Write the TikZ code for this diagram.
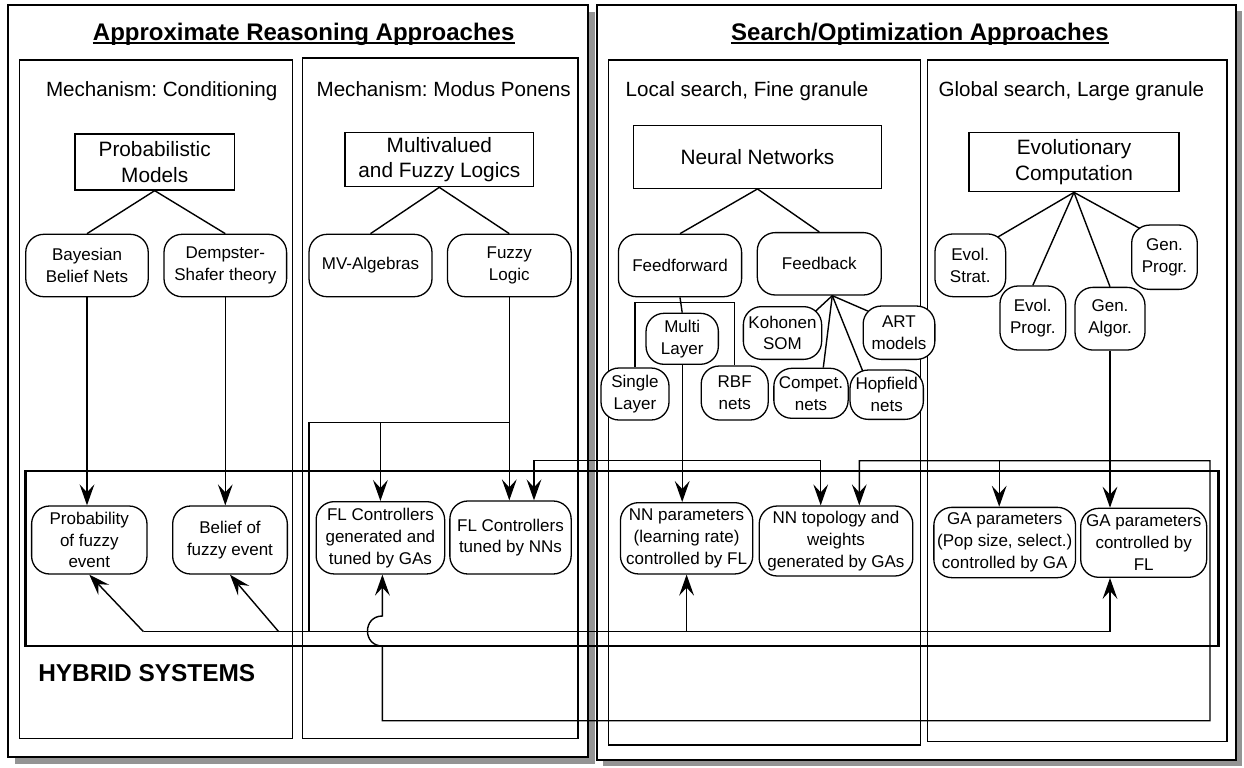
\documentclass[tikz,border=0pt]{standalone}
\usepackage{fontspec}
\setmainfont{Liberation Sans}
\usetikzlibrary{arrows.meta,calc}
\frenchspacing
\begin{document}
\frenchspacing
\begin{tikzpicture}[x=0.5pt,y=-0.5pt,
  shadow/.style={fill=black!42},
  frame/.style={draw=black,fill=white,line width=1.2pt},
  colbox/.style={draw=black,line width=0.6pt},
  hybbox/.style={draw=black,line width=1.4pt},
  boxn/.style={draw,fill=white,line width=0.65pt,align=center,inner sep=0pt,font=\fontsize{10.4}{12.8}\selectfont},
  rn/.style={draw,fill=white,rounded corners=9pt,line width=0.65pt,align=center,inner sep=0pt,font=\fontsize{8.5}{10.9}\selectfont},
  sz/.style 2 args={minimum width=#1*0.5pt,minimum height=#2*0.5pt},
  titletext/.style={anchor=base,inner sep=0pt,font=\bfseries\fontsize{12}{14}\selectfont},
  subtext/.style={anchor=base,inner sep=0pt,font=\fontsize{10.3}{12}\selectfont},
  hybtext/.style={anchor=base,inner sep=0pt,font=\bfseries\fontsize{12.2}{14}\selectfont},
  conn/.style={line width=0.7pt},
  arr/.style={conn,-{Stealth[length=10.5pt,width=7.4pt,inset=4pt]}},
  arrboth/.style={conn,{Stealth[length=10.5pt,width=7.4pt,inset=4pt]}-{Stealth[length=10.5pt,width=7.4pt,inset=4pt]}}
]
\useasboundingbox (0,0) rectangle (1244,767);
\fill[white] (0,0) rectangle (1244,767);

% outer frames with shadows
\fill[shadow] (15,12) rectangle (595,764);
\fill[shadow] (603,11) rectangle (1242,766);
\draw[frame] (8,5) rectangle (588,757);
\draw[frame] (597,5) rectangle (1236,760);

% column boxes
\draw[colbox] (19.8,60) rectangle (292.5,738.3);
\draw[colbox] (302.4,58) rectangle (577.9,738.3);
\draw[colbox] (608.2,60) rectangle (920.3,745);
\draw[colbox] (927.7,60) rectangle (1227,741.7);

% hybrid box
\draw[hybbox] (25.7,471) rectangle (1218.3,646);

% titles
\node[titletext] (t1) at (303.7,40) {Approximate Reasoning Approaches};
\node[titletext] (t2) at (919.9,40) {Search/Optimization Approaches};
\draw[line width=0.8pt] ($(t1.base west)+(0,3)$) -- ($(t1.base east)+(0,3)$);
\draw[line width=0.8pt] ($(t2.base west)+(0,3)$) -- ($(t2.base east)+(0,3)$);
\node[subtext] (s1) at (161.7,96.7) {Mechanism: Conditioning};
\node[subtext] (s2) at (443.7,96.7) {Mechanism: Modus Ponens};
\node[subtext] (s3) at (747,96.7) {Local search, Fine granule};
\node[subtext] (s4) at (1071.4,96.7) {Global search, Large granule};
\node[hybtext] (hy) at (146.8,681.7) {HYBRID SYSTEMS};

% top boxes
\node[boxn,sz={159.4}{56}] (PM) at (154.7,162) {Probabilistic\\Models};
\node[boxn,sz={188.6}{54.4}] (MFL) at (439.3,159.5) {Multivalued\\and Fuzzy Logics};
\node[boxn,sz={247.6}{63}] (NN) at (757.5,156.8) {Neural Networks};
\node[boxn,sz={209.8}{59.4}] (EC) at (1074,162) {Evolutionary\\Computation};

% second level
\node[rn,sz={122.5}{62.4}] (Bay) at (87,265.5) {Bayesian\\Belief Nets};
\node[rn,sz={122.6}{62.4}] (DS) at (225.3,265.5) {Dempster-\\Shafer theory};
\node[rn,sz={123}{62.4}] (MV) at (370.5,265.5) {MV-Algebras};
\node[rn,sz={123.7}{62.4}] (FLg) at (509.3,265.5) {Fuzzy\\Logic};
\node[rn,sz={123.2}{62.4}] (FF) at (680,265.5) {Feedforward};
\node[rn,sz={124}{62.4}] (FB) at (819.3,263.8) {Feedback};
\node[rn,sz={72.3}{51}] (ML) at (682.2,338.8) {Multi\\Layer};
\node[rn,sz={68}{52}] (SL) at (635,394) {Single\\Layer};
\node[rn,sz={67}{54}] (RBF) at (734.7,393) {RBF\\nets};
\node[rn,sz={78.3}{52.7}] (KS) at (782.5,333) {Kohonen\\SOM};
\node[rn,sz={71.7}{53.3}] (ART) at (899,332.7) {ART\\models};
\node[rn,sz={74.3}{50}] (CN) at (811,393.3) {Compet.\\nets};
\node[rn,sz={73.3}{49.3}] (HN) at (886.7,394.7) {Hopfield\\nets};
\node[rn,sz={70.7}{62.7}] (ES) at (970.3,265.3) {Evol.\\Strat.};
\node[rn,sz={65.7}{64}] (EP) at (1032.8,318) {Evol.\\Progr.};
\node[rn,sz={70}{62.7}] (GAl) at (1110,318.7) {Gen.\\Algor.};
\node[rn,sz={65.6}{64.3}] (GP) at (1164.5,257.2) {Gen.\\Progr.};

% hybrid nodes
\node[rn,sz={115.4}{68}] (PFE) at (89.3,540) {Probability\\of fuzzy\\event};
\node[rn,sz={114.7}{68}] (BFE) at (230,540) {Belief of\\fuzzy event};
\node[rn,sz={128.5}{72.3}] (FLGA) at (380.4,537.8) {FL Controllers\\generated and\\tuned by GAs};
\node[rn,sz={121.3}{73}] (FLNN) at (510.5,537.5) {FL Controllers\\tuned by NNs};
\node[rn,sz={132.3}{71.3}] (NNP) at (686.6,538.3) {NN parameters\\(learning rate)\\controlled by FL};
\node[rn,sz={153.6}{70}] (NNT) at (836,541) {NN topology and\\weights\\generated by GAs};
\node[rn,sz={141.7}{70.3}] (GAP) at (1004.7,542.5) {GA parameters\\(Pop size, select.)\\controlled by GA};
\node[rn,sz={126}{69}] (GAF) at (1143.7,542.8) {GA parameters\\controlled by\\FL};

% helper coordinates
\coordinate (yF) at (0,302.7);
\coordinate (yM) at (0,422.3);
\coordinate (yT) at (0,460.7);
\coordinate (yB) at (0,631.7);
\coordinate (yH) at (0,646);
\coordinate (yH2) at (0,616);
\coordinate (yL) at (0,720.7);

% tree lines
\draw[conn] (PM.south) -- (Bay.north);
\draw[conn] (PM.south) -- (DS.north);
\draw[conn] (MFL.south) -- (MV.north);
\draw[conn] (MFL.south) -- (FLg.north);
\draw[conn] (NN.south) -- (FF.north);
\draw[conn] (NN.south) -- (FB.north);
\draw[conn] (EC.south) -- ($(ES.north east)+(-8.4,3.7)$);
\draw[conn] (EC.south) -- (EP.north);
\draw[conn] (EC.south) -- (GAl.north);
\draw[conn] (EC.south) -- ($(GP.north west)+(9,4.2)$);
\draw[conn] (FF.south) -- (ML.north);
\draw[conn] (SL.north) -- (SL.north |- yF) -- (RBF.north |- yF) -- (RBF.north);
\coordinate (fbp) at ($(FB.south)+(13,0)$);
\draw[conn] (fbp) -- ($(KS.north east)+(-6.6,5)$);
\draw[conn] (fbp) -- ($(ART.north west)+(5.2,5.6)$);
\draw[conn] (fbp) -- ($(CN.north)+(12.3,0)$);
\draw[conn] (fbp) -- ($(HN.north west)+(13.3,1.6)$);

% vertical arrows down
\draw[arr] (Bay.south) -- (Bay.south |- PFE.north);
\draw[arr] (DS.south) -- (DS.south |- BFE.north);
\draw[arr] (FLg.south) -- (FLg.south |- FLNN.north);
\draw[arr] (ML.south) -- (ML.south |- NNP.north);
\draw[arr] (GAl.south) -- (GAl.south |- GAF.north);

% fuzzy logic branch
\coordinate (jFL) at (FLg.south |- yM);
\coordinate (jL) at (309,422.3);
\coordinate (jLB) at (309,631.7);
\draw[conn] (jFL) -- (jL) -- (jLB);
\draw[arr] (FLGA.north |- yM) -- (FLGA.north);

% FL bus
\coordinate (busL) at (143.5,631.7);
\coordinate (busB) at (278.7,631.7);
\coordinate (busR) at (1110,631.7);
\draw[conn] (busL) -- (busR);
\draw[arr] (busL) -- (PFE.south);
\draw[arr] (busB) -- (BFE.south);
\draw[arr] (NNP.south |- yB) -- (NNP.south);
\draw[arr] (busR) -- (busR |- GAF.south);

% NN line
\coordinate (a1) at ($(FLNN.north)+(23.5,0)$);
\coordinate (a2) at ($(NNT.north)+(-15.3,0)$);
\draw[arrboth] (a1) -- (a1 |- yT) -- (a2 |- yT) -- (a2);

% GA loop
\coordinate (a3) at ($(NNT.north)+(23.3,0)$);
\coordinate (a4) at ($(GAP.north)+(-5.5,0)$);
\coordinate (cR) at (1210,460.7);
\coordinate (cRB) at (1210,720.7);
\coordinate (a5) at ($(FLGA.south)+(2,0)$);
\draw[arrboth] (a3) -- (a3 |- yT) -- (cR) -- (cRB) -- (a5 |- yL) -- (a5 |- yH)
  to[out=180,in=180,looseness=1.7] (a5 |- yH2) -- (a5);
\draw[arr] (a4 |- yT) -- (a4);
\end{tikzpicture}
\end{document}
